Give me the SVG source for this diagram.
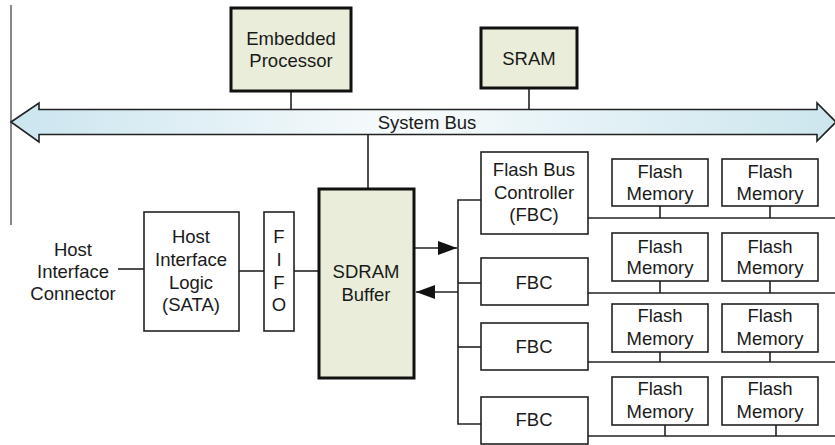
<svg xmlns="http://www.w3.org/2000/svg" width="835" height="445" viewBox="0 0 835 445">
<style>
text{font-family:"Liberation Sans",Arial,sans-serif;font-size:18.5px;fill:#1a1a1a;text-anchor:middle}
.thick{fill:#e9edd9;stroke:#111;stroke-width:3}
.box{fill:#fff;stroke:#222;stroke-width:1.6}
.ln{stroke:#222;stroke-width:1.6;fill:none}
</style>
<defs>
<linearGradient id="busg" x1="0" y1="0" x2="1" y2="0">
<stop offset="0" stop-color="#cbe5ef"/>
<stop offset="0.47" stop-color="#f7fbfc"/>
<stop offset="1" stop-color="#cce6ee"/>
</linearGradient>
<marker id="ah" viewBox="0 0 19 14" refX="19" refY="7" markerWidth="19" markerHeight="14" markerUnits="userSpaceOnUse" orient="auto">
<polygon points="0,0 19,7 0,14" fill="#111"/>
</marker>
</defs>
<rect width="835" height="445" fill="#fff"/>
<line x1="11" y1="5" x2="11" y2="225" stroke="#888" stroke-width="2"/>

<g id="connectors">
<line class="ln" x1="291" y1="91" x2="291" y2="110"/>
<line class="ln" x1="529" y1="88" x2="529" y2="110"/>
<line class="ln" x1="368" y1="134" x2="368" y2="188"/>
<line class="ln" x1="118" y1="269" x2="144" y2="269"/>
<line class="ln" x1="239" y1="271" x2="264" y2="271"/>
<line class="ln" x1="294" y1="271" x2="318" y2="271"/>
<line class="ln" x1="415" y1="248" x2="457" y2="248" marker-end="url(#ah)"/>
<line class="ln" x1="458" y1="292" x2="416" y2="292" marker-end="url(#ah)"/>
<polyline class="ln" points="481,200 458,200 458,424 481,424"/>
<line class="ln" x1="458" y1="283" x2="481" y2="283"/>
<line class="ln" x1="458" y1="347" x2="481" y2="347"/>
<line class="ln" x1="588" y1="218" x2="835" y2="218"/>
<line class="ln" x1="660" y1="206" x2="660" y2="218"/>
<line class="ln" x1="770" y1="206" x2="770" y2="218"/>
<line class="ln" x1="588" y1="293" x2="835" y2="293"/>
<line class="ln" x1="660" y1="281" x2="660" y2="293"/>
<line class="ln" x1="770" y1="281" x2="770" y2="293"/>
<line class="ln" x1="588" y1="362" x2="835" y2="362"/>
<line class="ln" x1="660" y1="352" x2="660" y2="362"/>
<line class="ln" x1="770" y1="352" x2="770" y2="362"/>
<line class="ln" x1="588" y1="436" x2="835" y2="436"/>
<line class="ln" x1="665" y1="425" x2="665" y2="436"/>
<line class="ln" x1="776" y1="425" x2="776" y2="436"/>
</g>

<g id="system-bus">
<polygon points="11,122 39,103 39,109.5 817,109.5 817,103 836,122 817,141 817,134.5 39,134.5 39,142" fill="url(#busg)" stroke="#222" stroke-width="1.6" stroke-linejoin="miter"/>
<text x="427" y="129">System Bus</text>
</g>

<g id="embedded-processor">
<rect class="thick" x="231" y="8" width="120" height="83"/>
<text x="291" y="45">Embedded</text>
<text x="291" y="67">Processor</text>
</g>

<g id="sram">
<rect class="thick" x="481" y="28" width="96" height="60"/>
<text x="529" y="65">SRAM</text>
</g>

<g id="host-connector">
<text x="73" y="256">Host</text>
<text x="73" y="278">Interface</text>
<text x="73" y="300">Connector</text>
</g>

<g id="host-interface-logic">
<rect class="box" x="144" y="212" width="95" height="119"/>
<text x="191" y="243">Host</text>
<text x="191" y="266">Interface</text>
<text x="191" y="289">Logic</text>
<text x="191" y="311">(SATA)</text>
</g>

<g id="fifo">
<rect class="box" x="264" y="212" width="30" height="119"/>
<text x="279" y="243">F</text>
<text x="279" y="266">I</text>
<text x="279" y="289">F</text>
<text x="279" y="311">O</text>
</g>

<g id="sdram-buffer">
<rect class="thick" x="319" y="189" width="95" height="189"/>
<text x="366" y="278">SDRAM</text>
<text x="366" y="301">Buffer</text>
</g>

<g id="fbc1">
<rect class="box" x="481" y="152" width="107" height="82"/>
<text x="534" y="176">Flash Bus</text>
<text x="534" y="199">Controller</text>
<text x="534" y="221">(FBC)</text>
</g>
<g id="fbc2">
<rect class="box" x="481" y="258" width="107" height="47"/>
<text x="534" y="289">FBC</text>
</g>
<g id="fbc3">
<rect class="box" x="481" y="323" width="107" height="47"/>
<text x="534" y="353">FBC</text>
</g>
<g id="fbc4">
<rect class="box" x="481" y="397" width="107" height="47"/>
<text x="534" y="426">FBC</text>
</g>

<g id="flash-1-1"><rect class="box" x="612" y="159" width="96" height="47"/><text x="660" y="178">Flash</text><text x="660" y="200">Memory</text></g>
<g id="flash-1-2"><rect class="box" x="722" y="159" width="96" height="47"/><text x="770" y="178">Flash</text><text x="770" y="200">Memory</text></g>
<g id="flash-2-1"><rect class="box" x="612" y="233" width="96" height="48"/><text x="660" y="253">Flash</text><text x="660" y="274">Memory</text></g>
<g id="flash-2-2"><rect class="box" x="722" y="233" width="96" height="48"/><text x="770" y="253">Flash</text><text x="770" y="274">Memory</text></g>
<g id="flash-3-1"><rect class="box" x="612" y="304" width="96" height="48"/><text x="660" y="322">Flash</text><text x="660" y="345">Memory</text></g>
<g id="flash-3-2"><rect class="box" x="722" y="304" width="96" height="48"/><text x="770" y="322">Flash</text><text x="770" y="345">Memory</text></g>
<g id="flash-4-1"><rect class="box" x="612" y="377" width="96" height="48"/><text x="660" y="395">Flash</text><text x="660" y="418">Memory</text></g>
<g id="flash-4-2"><rect class="box" x="722" y="377" width="96" height="48"/><text x="770" y="395">Flash</text><text x="770" y="418">Memory</text></g>
</svg>
